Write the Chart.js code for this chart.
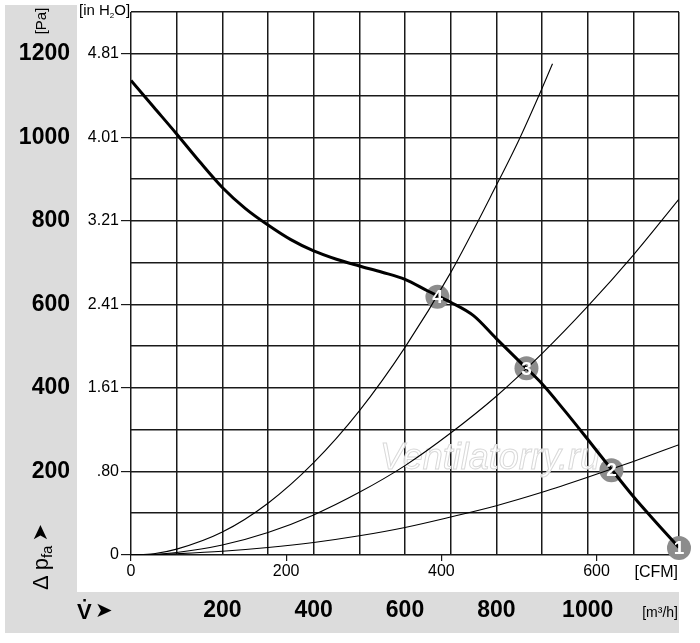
<!DOCTYPE html>
<html lang="en">
<head>
  <meta charset="UTF-8">
  <title>Fan curve</title>
  <script src="https://cdn.jsdelivr.net/npm/chart.js"></script>
  <style>
    html, body { margin: 0; padding: 0; background: #fff; }
    #wrap { width: 700px; height: 643px; }
  </style>
</head>
<body>
  <div id="wrap"><canvas id="fanChart"></canvas></div>

  <script>
    // fan curve, flow in m3/h, pressure in Pa
    const curveFlow = [0, 50, 100, 150, 200, 250, 300, 350, 400, 450, 500, 550, 600, 650, 700, 750, 800, 850, 900, 950, 1000, 1050, 1100, 1150, 1200];
    const curvePa   = [1136, 1072, 1008, 942, 880, 830, 790, 755, 728, 708, 692, 677, 660, 632, 605, 573, 518, 464, 410, 345, 277, 208, 140, 78, 18];

    // system curves
    const sys4Flow = [0, 50, 100, 200, 300, 400, 500, 600, 700, 800, 850, 900, 923];
    const sys4Pa   = [0, 3, 14, 55, 124, 221, 345, 497, 676, 885, 995, 1117, 1176];
    const sys3Flow = [0, 50, 100, 200, 300, 400, 500, 600, 700, 800, 900, 1000, 1100, 1200];
    const sys3Pa   = [0, 1.5, 6, 24, 54, 96, 150, 214, 292, 380, 482, 595, 718, 852];
    const sys2Flow = [0, 50, 100, 200, 300, 400, 500, 600, 700, 800, 900, 1000, 1100, 1200];
    const sys2Pa   = [0, 0.7, 3, 9, 18, 30, 46, 66, 91, 118, 150, 186, 224, 264];

    // operating points
    const pointFlow  = [1200, 1052, 866, 671];
    const pointPa    = [17, 203, 447, 618];
    const pointNames = ['1', '2', '3', '4'];

    // axes
    const paTicks   = [200, 400, 600, 800, 1000, 1200];
    const inTicks   = [0, 200, 400, 600, 800, 1000, 1200];
    const inLabels  = ['0', '.80', '1.61', '2.41', '3.21', '4.01', '4.81'];
    const m3hTicks  = [200, 400, 600, 800, 1000];
    const cfmTicks  = [0, 200, 400, 600];
    const M3H_PER_CFM = 1.699;

    const FONT = "'Liberation Sans', Arial, sans-serif";
    const GRID = '#1a1a1a';

    function pairs(xs, ys) {
      return xs.map((x, i) => ({ x: x, y: ys[i] }));
    }

    // drop the room chart.js keeps for half a tick label
    function noPad(s) {
      s.paddingTop = 0;
      s.paddingBottom = 0;
      s.paddingLeft = 0;
      s.paddingRight = 0;
    }

    const bandPlugin = {
      id: 'bands',
      beforeDraw(chart) {
        const ctx = chart.ctx;
        const yPa = chart.scales.y;
        const xM = chart.scales.x;
        ctx.save();
        ctx.fillStyle = '#dcdcdc';
        ctx.fillRect(yPa.left, 5, yPa.right - yPa.left, xM.bottom - 5);
        ctx.fillRect(yPa.left, xM.top, chart.chartArea.right - yPa.left, xM.bottom - xM.top);
        ctx.restore();
      }
    };

    const watermarkPlugin = {
      id: 'watermark',
      beforeDatasetsDraw(chart) {
        const ctx = chart.ctx;
        ctx.save();
        ctx.font = 'italic 36px ' + FONT;
        ctx.textBaseline = 'middle';
        ctx.fillStyle = 'rgba(255,255,255,0.85)';
        ctx.strokeStyle = '#d9d9d9';
        ctx.lineWidth = 1;
        ctx.fillText('Ventilatorry.ru', 380, 459);
        ctx.strokeText('Ventilatorry.ru', 380, 459);
        ctx.restore();
      }
    };

    const textPlugin = {
      id: 'texts',
      afterDraw(chart) {
        const ctx = chart.ctx;
        const area = chart.chartArea;
        const xM = chart.scales.x;
        ctx.save();
        ctx.textBaseline = 'middle';

        // point numbers
        const meta = chart.getDatasetMeta(4);
        ctx.font = 'bold 19px ' + FONT;
        ctx.textAlign = 'center';
        ctx.fillStyle = '#fff';
        meta.data.forEach((el, i) => {
          ctx.fillText(pointNames[i], el.x, el.y + 1);
        });
        ctx.fillStyle = '#000';

        // [in H2O]
        ctx.textAlign = 'left';
        ctx.font = '15px ' + FONT;
        let x = 79;
        ctx.fillText('[in H', x, 11);
        x += ctx.measureText('[in H').width;
        ctx.font = '8px ' + FONT;
        ctx.fillText('2', x, 16);
        x += ctx.measureText('2').width;
        ctx.font = '15px ' + FONT;
        ctx.fillText('O]', x, 11);

        // [CFM]
        ctx.textAlign = 'right';
        ctx.font = '16px ' + FONT;
        ctx.fillText('[CFM]', area.right - 1, 573);

        // [m3/h]
        ctx.font = '14px ' + FONT;
        ctx.fillText('[m³/h]', area.right - 1, (xM.top + xM.bottom) / 2 + 1);

        // V arrow
        ctx.textAlign = 'left';
        ctx.font = 'bold 22px ' + FONT;
        ctx.fillText('V', 77, 613);
        const vw = ctx.measureText('V').width;
        ctx.fillRect(77 + vw / 2 - 1, 599, 2.5, 2.5);
        ctx.font = 'bold 21px DejaVu Sans, sans-serif';
        ctx.fillText('➤', 95, 612);

        // rotated labels
        ctx.save();
        ctx.translate(42, 21);
        ctx.rotate(-Math.PI / 2);
        ctx.textAlign = 'center';
        ctx.font = '15px ' + FONT;
        ctx.fillText('[Pa]', 0, 0);
        ctx.restore();

        ctx.save();
        ctx.translate(42, 590);
        ctx.rotate(-Math.PI / 2);
        ctx.textAlign = 'left';
        let t = 0;
        ctx.font = '22px ' + FONT;
        ctx.fillText('Δ', t, 0);
        t += ctx.measureText('Δ').width + 5;
        ctx.fillText('p', t, 0);
        t += ctx.measureText('p').width;
        ctx.font = '15px ' + FONT;
        ctx.fillText('fa', t, 6);
        t += ctx.measureText('fa').width + 4;
        ctx.font = 'bold 21px DejaVu Sans, sans-serif';
        ctx.fillText('➤', t, 0);
        ctx.restore();

        ctx.restore();
      }
    };

    const thinLine = {
      type: 'line',
      borderColor: '#000',
      borderWidth: 1.1,
      pointRadius: 0,
      fill: false,
      cubicInterpolationMode: 'monotone'
    };

    new Chart(document.getElementById('fanChart'), {
      type: 'line',
      data: {
        datasets: [
          {
            data: pairs(curveFlow, curvePa),
            borderColor: '#000',
            borderWidth: 3,
            pointRadius: 0,
            fill: false,
            cubicInterpolationMode: 'monotone'
          },
          Object.assign({ data: pairs(sys4Flow, sys4Pa) }, thinLine),
          Object.assign({ data: pairs(sys3Flow, sys3Pa) }, thinLine),
          Object.assign({ data: pairs(sys2Flow, sys2Pa) }, thinLine),
          {
            type: 'scatter',
            data: pairs(pointFlow, pointPa),
            pointRadius: 12,
            pointHoverRadius: 12,
            backgroundColor: '#8c8c8c',
            borderWidth: 0,
            clip: false
          }
        ]
      },
      options: {
        responsive: true,
        maintainAspectRatio: false,
        animation: false,
        events: [],
        // top padding ends up counted twice by the layout, 4 gives a top at 7px
        layout: { padding: { left: 5, right: 21, top: 4, bottom: 10 } },
        plugins: {
          legend: { display: false },
          tooltip: { enabled: false }
        },
        scales: {
          x: {
            type: 'linear',
            position: 'bottom',
            weight: 1,
            min: 0,
            max: 1200,
            ticks: {
              stepSize: 100,
              autoSkip: false,
              maxRotation: 0,
              padding: 5,
              color: '#000',
              font: { family: FONT, size: 23, weight: 'bold' },
              callback: v => m3hTicks.includes(v) ? String(v) : ''
            },
            grid: { drawOnChartArea: true, drawTicks: false, color: GRID, lineWidth: 1.5 },
            border: { display: false },
            afterFit(s) { s.height = 41; noPad(s); }
          },
          xCfm: {
            type: 'linear',
            position: 'bottom',
            weight: 0,
            min: 0,
            max: 1200 / M3H_PER_CFM,
            afterBuildTicks(s) { s.ticks = cfmTicks.map(v => ({ value: v })); },
            ticks: {
              autoSkip: false,
              maxRotation: 0,
              padding: 1,
              color: '#000',
              font: { family: FONT, size: 16 },
              callback: v => String(v)
            },
            grid: { drawOnChartArea: false, drawTicks: true, tickLength: 6, color: GRID, lineWidth: 1.2 },
            border: { display: false },
            afterFit(s) { s.height = 37; noPad(s); }
          },
          y: {
            type: 'linear',
            position: 'left',
            weight: 1,
            min: 0,
            max: 1300,
            ticks: {
              stepSize: 100,
              autoSkip: false,
              padding: 7,
              color: '#000',
              font: { family: FONT, size: 23, weight: 'bold' },
              callback: v => paTicks.includes(v) ? String(v) : ''
            },
            grid: { drawOnChartArea: true, drawTicks: false, color: GRID, lineWidth: 1.5 },
            border: { display: false },
            afterFit(s) { s.width = 72; noPad(s); }
          },
          yIn: {
            type: 'linear',
            position: 'left',
            weight: 0,
            min: 0,
            max: 1300,
            afterBuildTicks(s) { s.ticks = inTicks.map(v => ({ value: v })); },
            ticks: {
              autoSkip: false,
              padding: 2,
              color: '#000',
              font: { family: FONT, size: 16 },
              callback: (v, i) => inLabels[i]
            },
            grid: { drawOnChartArea: false, drawTicks: true, tickLength: 10, color: GRID, lineWidth: 1.2 },
            border: { display: false },
            afterFit(s) { s.width = 54; noPad(s); }
          }
        }
      },
      plugins: [bandPlugin, watermarkPlugin, textPlugin]
    });
  </script>
</body>
</html>
